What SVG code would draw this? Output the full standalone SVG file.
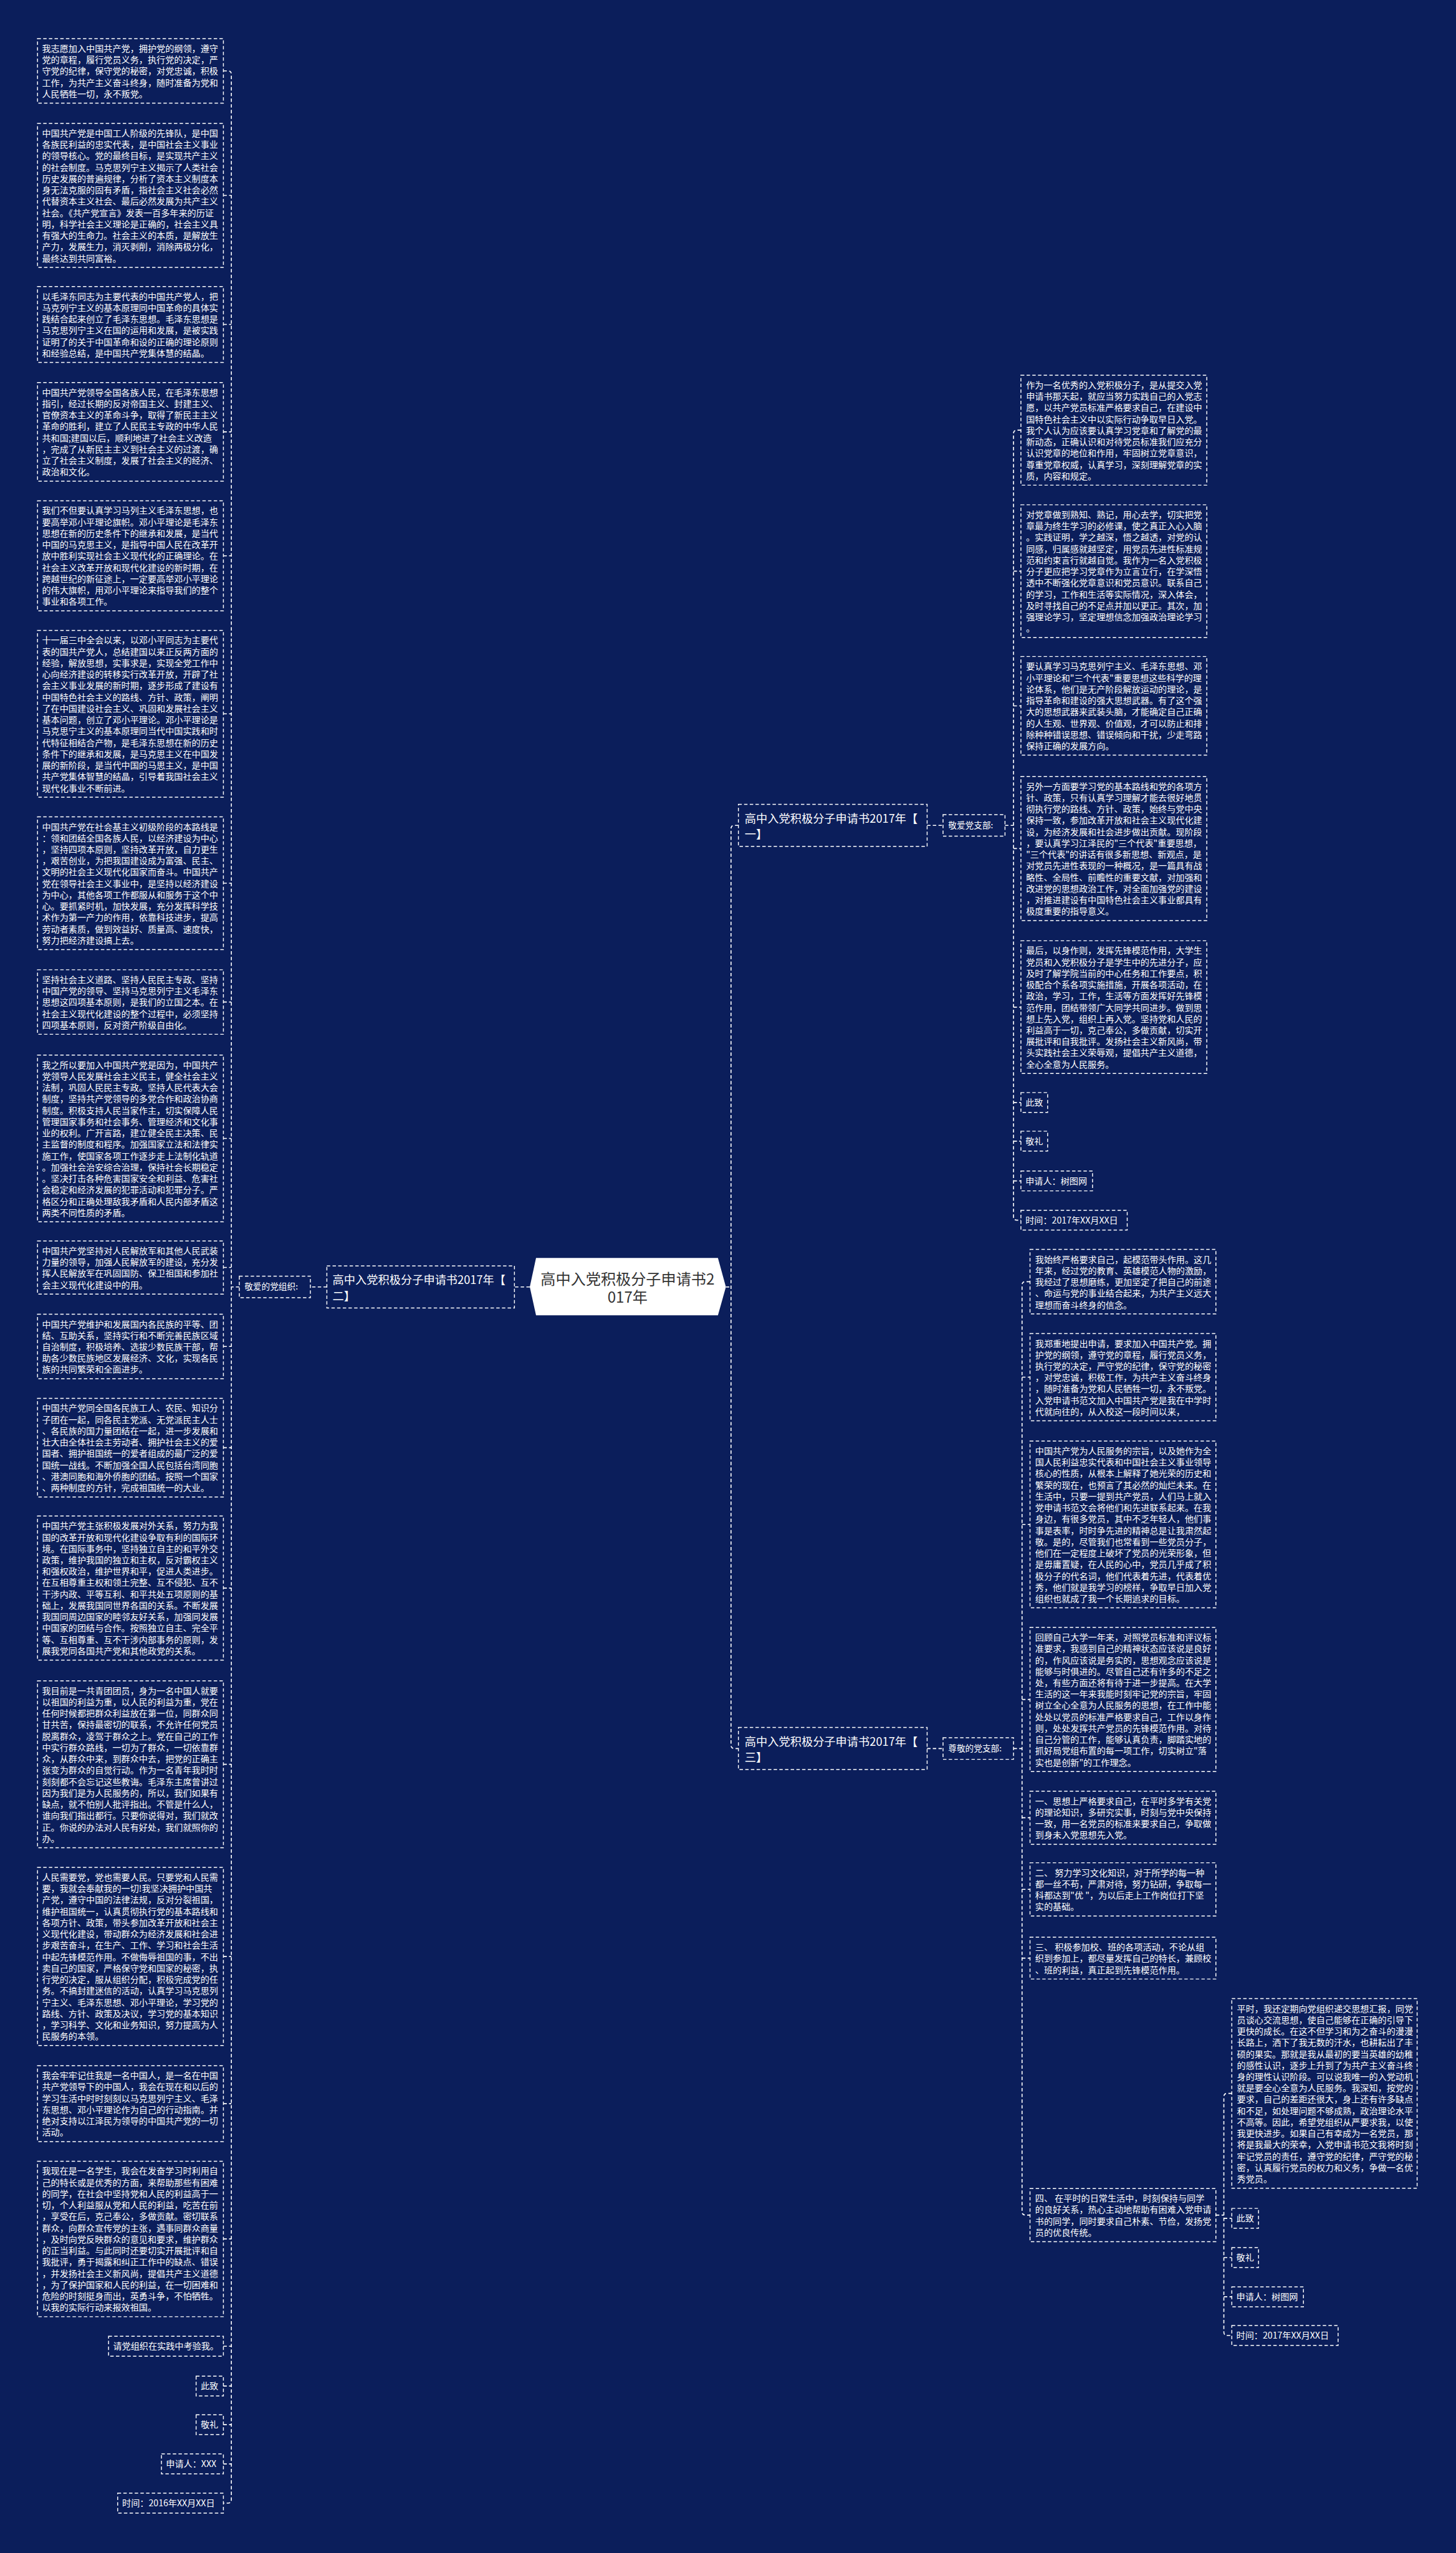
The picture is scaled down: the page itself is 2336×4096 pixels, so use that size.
<svg xmlns="http://www.w3.org/2000/svg" width="2336" height="4096" viewBox="0 0 2336 4096">
<style>
.bg{fill:#0b1e5b}
.box{fill:none;stroke:#ffffff;stroke-width:1.6;stroke-dasharray:6 4}
.conn{fill:none;stroke:#ffffff;stroke-width:1.8;stroke-dasharray:6 4}
.t{font-family:"Noto Sans CJK SC","Noto Sans",sans-serif;font-size:15.5px;fill:#ffffff}
.s{font-family:"Noto Sans CJK SC","Noto Sans",sans-serif;font-size:15px;fill:#ffffff}
.b{font-family:"Noto Sans CJK SC","Noto Sans",sans-serif;font-size:20px;fill:#ffffff}
.c{font-family:"Noto Sans CJK SC","Noto Sans",sans-serif;font-size:26.5px;fill:#333333;text-anchor:middle}
</style>
<rect class="bg" x="0" y="0" width="2336" height="4096"/>
<g transform="scale(0.912)">
<g id="connectors">
<path class="conn" d="M932,2264 H905"/>
<path class="conn" d="M575,2264 H546"/>
<path class="conn" d="M421,2264 H407"/>
<path class="conn" d="M393,124.75 H401 Q407,124.75 407,130.75 V4397.5 Q407,4403.5 401,4403.5 H393"/>
<path class="conn" d="M393,343.75 H407 M393,570.75 H407 M393,759.75 H407 M393,977.75 H407 M393,1255.75 H407 M393,1553.75 H407 M393,1762.75 H407 M393,2002.75 H407 M393,2229.75 H407 M393,2368.75 H407 M393,2546.75 H407 M393,2793.75 H407 M393,3103.75 H407 M393,3441.75 H407 M393,3700.75 H407 M393,3938.75 H407 M393,4127.5 H407 M393,4197.5 H407 M393,4265.5 H407 M393,4334.5 H407"/>
<path class="conn" d="M1277,2264 H1286"/>
<path class="conn" d="M1299,1452 H1292 Q1286,1452 1286,1458 V3070 Q1286,3076 1292,3076 H1299"/>
<path class="conn" d="M1631,1452 H1659"/>
<path class="conn" d="M1631,3076 H1659"/>
<path class="conn" d="M1768,1452 H1783"/>
<path class="conn" d="M1796,756.75 H1789 Q1783,756.75 1783,762.75 V2140.5 Q1783,2146.5 1789,2146.5 H1796"/>
<path class="conn" d="M1783,1004.75 H1796 M1783,1241.75 H1796 M1783,1492.75 H1796 M1783,1771.75 H1796 M1783,1939.5 H1796 M1783,2007.5 H1796 M1783,2077.5 H1796"/>
<path class="conn" d="M1783,3076 H1798"/>
<path class="conn" d="M1812,2254.75 H1804 Q1798,2254.75 1798,2260.75 V3890.75 Q1798,3896.75 1804,3896.75 H1812"/>
<path class="conn" d="M1798,2422.75 H1812 M1798,2681.75 H1812 M1798,2989.75 H1812 M1798,3197.75 H1812 M1798,3323.75 H1812 M1798,3444.75 H1812"/>
<path class="conn" d="M2139,3896.75 H2153"/>
<path class="conn" d="M2167,3682.75 H2159 Q2153,3682.75 2153,3688.75 V4102.5 Q2153,4108.5 2159,4108.5 H2167"/>
<path class="conn" d="M2153,3902.5 H2167 M2153,3971.5 H2167 M2153,4040.5 H2167"/>
</g>

<g id="center">
<polygon points="943,2213 1263,2213 1277,2264 1263,2314 943,2314 932,2264" fill="#ffffff"/>
<text class="c" x="1104" y="2260">高中入党积极分子申请书2</text>
<text class="c" x="1104" y="2292">017年</text>
</g>

<g id="branch2">
<rect class="box" x="575" y="2227" width="330" height="74"/>
<text class="b" x="585" y="2259">高中入党积极分子申请书2017年【</text>
<text class="b" x="585" y="2287">二】</text>
</g>
<g id="greet2">
<rect class="box" x="421" y="2245" width="125" height="38"/>
<text class="s" x="430" y="2269">敬爱的党组织:</text>
</g>

<g id="branch1">
<rect class="box" x="1299" y="1415" width="332" height="74"/>
<text class="b" x="1310" y="1447">高中入党积极分子申请书2017年【</text>
<text class="b" x="1310" y="1475">一】</text>
</g>
<g id="greet1">
<rect class="box" x="1659" y="1433" width="109" height="38"/>
<text class="s" x="1668" y="1457">敬爱党支部:</text>
</g>

<g id="branch3">
<rect class="box" x="1299" y="3039" width="332" height="74"/>
<text class="b" x="1310" y="3071">高中入党积极分子申请书2017年【</text>
<text class="b" x="1310" y="3099">三】</text>
</g>
<g id="greet3">
<rect class="box" x="1659" y="3057" width="124" height="38"/>
<text class="s" x="1668" y="3081">尊敬的党支部:</text>
</g>

<g id="L1"><rect class="box" x="66" y="68" width="327" height="113.5"/>
<text class="t" x="74" y="91"><tspan x="74">我志愿加入中国共产党，拥护党的纲领，遵守</tspan><tspan x="74" dy="20">党的章程，履行党员义务，执行党的决定，严</tspan><tspan x="74" dy="20">守党的纪律，保守党的秘密，对党忠诚，积极</tspan><tspan x="74" dy="20">工作，为共产主义奋斗终身，随时准备为党和</tspan><tspan x="74" dy="20">人民牺牲一切，永不叛党。</tspan></text></g>

<g id="L2"><rect class="box" x="66" y="217" width="327" height="253.5"/>
<text class="t" x="74" y="240"><tspan x="74">中国共产党是中国工人阶级的先锋队，是中国</tspan><tspan x="74" dy="20">各族民利益的忠实代表，是中国社会主义事业</tspan><tspan x="74" dy="20">的领导核心。党的最终目标，是实现共产主义</tspan><tspan x="74" dy="20">的社会制度。马克思列宁主义揭示了人类社会</tspan><tspan x="74" dy="20">历史发展的普遍规律，分析了资本主义制度本</tspan><tspan x="74" dy="20">身无法克服的固有矛盾，指社会主义社会必然</tspan><tspan x="74" dy="20">代替资本主义社会、最后必然发展为共产主义</tspan><tspan x="74" dy="20">社会。《共产党宣言》发表一百多年来的历证</tspan><tspan x="74" dy="20">明，科学社会主义理论是正确的，社会主义具</tspan><tspan x="74" dy="20">有强大的生命力。社会主义的本质，是解放生</tspan><tspan x="74" dy="20">产力，发展生力，消灭剥削，消除两极分化，</tspan><tspan x="74" dy="20">最终达到共同富裕。</tspan></text></g>

<g id="L3"><rect class="box" x="66" y="504" width="327" height="133.5"/>
<text class="t" x="74" y="527"><tspan x="74">以毛泽东同志为主要代表的中国共产党人，把</tspan><tspan x="74" dy="20">马克列宁主义的基本原理同中国革命的具体实</tspan><tspan x="74" dy="20">践结合起来创立了毛泽东思想。毛泽东思想是</tspan><tspan x="74" dy="20">马克思列宁主义在国的运用和发展，是被实践</tspan><tspan x="74" dy="20">证明了的关于中国革命和设的正确的理论原则</tspan><tspan x="74" dy="20">和经验总结，是中国共产党集体慧的结晶。</tspan></text></g>

<g id="L4"><rect class="box" x="66" y="673" width="327" height="173.5"/>
<text class="t" x="74" y="696"><tspan x="74">中国共产党领导全国各族人民，在毛泽东思想</tspan><tspan x="74" dy="20">指引，经过长期的反对帝国主义、封建主义、</tspan><tspan x="74" dy="20">官僚资本主义的革命斗争，取得了新民主主义</tspan><tspan x="74" dy="20">革命的胜利，建立了人民民主专政的中华人民</tspan><tspan x="74" dy="20">共和国;建国以后，顺利地进了社会主义改造</tspan><tspan x="74" dy="20">，完成了从新民主主义到社会主义的过渡，确</tspan><tspan x="74" dy="20">立了社会主义制度，发展了社会主义的经济、</tspan><tspan x="74" dy="20">政治和文化。</tspan></text></g>

<g id="L5"><rect class="box" x="66" y="881" width="327" height="193.5"/>
<text class="t" x="74" y="904"><tspan x="74">我们不但要认真学习马列主义毛泽东思想，也</tspan><tspan x="74" dy="20">要高举邓小平理论旗帜。邓小平理论是毛泽东</tspan><tspan x="74" dy="20">思想在新的历史条件下的继承和发展，是当代</tspan><tspan x="74" dy="20">中国的马克思主义，是指导中国人民在改革开</tspan><tspan x="74" dy="20">放中胜利实现社会主义现代化的正确理论。在</tspan><tspan x="74" dy="20">社会主义改革开放和现代化建设的新时期，在</tspan><tspan x="74" dy="20">跨越世纪的新征途上，一定要高举邓小平理论</tspan><tspan x="74" dy="20">的伟大旗帜，用邓小平理论来指导我们的整个</tspan><tspan x="74" dy="20">事业和各项工作。</tspan></text></g>

<g id="L6"><rect class="box" x="66" y="1109" width="327" height="293.5"/>
<text class="t" x="74" y="1132"><tspan x="74">十一届三中全会以来，以邓小平同志为主要代</tspan><tspan x="74" dy="20">表的国共产党人，总结建国以来正反两方面的</tspan><tspan x="74" dy="20">经验，解放思想，实事求是，实现全党工作中</tspan><tspan x="74" dy="20">心向经济建设的转移实行改革开放，开辟了社</tspan><tspan x="74" dy="20">会主义事业发展的新时期，逐步形成了建设有</tspan><tspan x="74" dy="20">中国特色社会主义的路线、方针、政策，阐明</tspan><tspan x="74" dy="20">了在中国建设社会主义、巩固和发展社会主义</tspan><tspan x="74" dy="20">基本问题，创立了邓小平理论。邓小平理论是</tspan><tspan x="74" dy="20">马克思宁主义的基本原理同当代中国实践和时</tspan><tspan x="74" dy="20">代特征相结合产物，是毛泽东思想在新的历史</tspan><tspan x="74" dy="20">条件下的继承和发展，是马克思主义在中国发</tspan><tspan x="74" dy="20">展的新阶段，是当代中国的马思主义，是中国</tspan><tspan x="74" dy="20">共产党集体智慧的结晶，引导着我国社会主义</tspan><tspan x="74" dy="20">现代化事业不断前进。</tspan></text></g>

<g id="L7"><rect class="box" x="66" y="1437" width="327" height="233.5"/>
<text class="t" x="74" y="1460"><tspan x="74">中国共产党在社会基主义初级阶段的本路线是</tspan><tspan x="74" dy="20">：领和团结全国各族人民，以经济建设为中心</tspan><tspan x="74" dy="20">，坚持四项本原则，坚持改革开放，自力更生</tspan><tspan x="74" dy="20">，艰苦创业，为把我国建设成为富强、民主、</tspan><tspan x="74" dy="20">文明的社会主义现代化国家而奋斗。中国共产</tspan><tspan x="74" dy="20">党在领导社会主义事业中，是坚持以经济建设</tspan><tspan x="74" dy="20">为中心，其他各项工作都服从和服务于这个中</tspan><tspan x="74" dy="20">心。要抓紧时机，加快发展，充分发挥科学技</tspan><tspan x="74" dy="20">术作为第一产力的作用，依靠科技进步，提高</tspan><tspan x="74" dy="20">劳动者素质，做到效益好、质量高、速度快，</tspan><tspan x="74" dy="20">努力把经济建设搞上去。</tspan></text></g>

<g id="L8"><rect class="box" x="66" y="1706" width="327" height="113.5"/>
<text class="t" x="74" y="1729"><tspan x="74">坚持社会主义道路、坚持人民民主专政、坚持</tspan><tspan x="74" dy="20">中国产党的领导、坚持马克思列宁主义毛泽东</tspan><tspan x="74" dy="20">思想这四项基本原则，是我们的立国之本。在</tspan><tspan x="74" dy="20">社会主义现代化建设的整个过程中，必须坚持</tspan><tspan x="74" dy="20">四项基本原则，反对资产阶级自由化。</tspan></text></g>

<g id="L9"><rect class="box" x="66" y="1856" width="327" height="293.5"/>
<text class="t" x="74" y="1879"><tspan x="74">我之所以要加入中国共产党是因为，中国共产</tspan><tspan x="74" dy="20">党领导人民发展社会主义民主，健全社会主义</tspan><tspan x="74" dy="20">法制，巩固人民民主专政。坚持人民代表大会</tspan><tspan x="74" dy="20">制度，坚持共产党领导的多党合作和政治协商</tspan><tspan x="74" dy="20">制度。积极支持人民当家作主，切实保障人民</tspan><tspan x="74" dy="20">管理国家事务和社会事务、管理经济和文化事</tspan><tspan x="74" dy="20">业的权利。广开言路，建立健全民主决策、民</tspan><tspan x="74" dy="20">主监督的制度和程序。加强国家立法和法律实</tspan><tspan x="74" dy="20">施工作，使国家各项工作逐步走上法制化轨道</tspan><tspan x="74" dy="20">。加强社会治安综合治理，保持社会长期稳定</tspan><tspan x="74" dy="20">。坚决打击各种危害国家安全和利益、危害社</tspan><tspan x="74" dy="20">会稳定和经济发展的犯罪活动和犯罪分子。严</tspan><tspan x="74" dy="20">格区分和正确处理敌我矛盾和人民内部矛盾这</tspan><tspan x="74" dy="20">两类不同性质的矛盾。</tspan></text></g>

<g id="L10"><rect class="box" x="66" y="2183" width="327" height="93.5"/>
<text class="t" x="74" y="2206"><tspan x="74">中国共产党坚持对人民解放军和其他人民武装</tspan><tspan x="74" dy="20">力量的领导，加强人民解放军的建设，充分发</tspan><tspan x="74" dy="20">挥人民解放军在巩固国防、保卫祖国和参加社</tspan><tspan x="74" dy="20">会主义现代化建设中的用。</tspan></text></g>

<g id="L11"><rect class="box" x="66" y="2312" width="327" height="113.5"/>
<text class="t" x="74" y="2335"><tspan x="74">中国共产党维护和发展国内各民族的平等、团</tspan><tspan x="74" dy="20">结、互助关系，坚持实行和不断完善民族区域</tspan><tspan x="74" dy="20">自治制度，积极培养、选拔少数民族干部，帮</tspan><tspan x="74" dy="20">助各少数民族地区发展经济、文化，实现各民</tspan><tspan x="74" dy="20">族的共同繁荣和全面进步。</tspan></text></g>

<g id="L12"><rect class="box" x="66" y="2460" width="327" height="173.5"/>
<text class="t" x="74" y="2483"><tspan x="74">中国共产党同全国各民族工人、农民、知识分</tspan><tspan x="74" dy="20">子团在一起，同各民主党派、无党派民主人士</tspan><tspan x="74" dy="20">、各民族的国力量团结在一起，进一步发展和</tspan><tspan x="74" dy="20">壮大由全体社会主劳动者、拥护社会主义的爱</tspan><tspan x="74" dy="20">国者、拥护祖国统一的爱者组成的最广泛的爱</tspan><tspan x="74" dy="20">国统一战线。不断加强全国人民包括台湾同胞</tspan><tspan x="74" dy="20">、港澳同胞和海外侨胞的团结。按照一个国家</tspan><tspan x="74" dy="20">、两种制度的方针，完成祖国统一的大业。</tspan></text></g>

<g id="L13"><rect class="box" x="66" y="2667" width="327" height="253.5"/>
<text class="t" x="74" y="2690"><tspan x="74">中国共产党主张积极发展对外关系，努力为我</tspan><tspan x="74" dy="20">国的改革开放和现代化建设争取有利的国际环</tspan><tspan x="74" dy="20">境。在国际事务中，坚持独立自主的和平外交</tspan><tspan x="74" dy="20">政策，维护我国的独立和主权，反对霸权主义</tspan><tspan x="74" dy="20">和强权政治，维护世界和平，促进人类进步。</tspan><tspan x="74" dy="20">在互相尊重主权和领土完整、互不侵犯、互不</tspan><tspan x="74" dy="20">干涉内政、平等互利、和平共处五项原则的基</tspan><tspan x="74" dy="20">础上，发展我国同世界各国的关系。不断发展</tspan><tspan x="74" dy="20">我国同周边国家的睦邻友好关系，加强同发展</tspan><tspan x="74" dy="20">中国家的团结与合作。按照独立自主、完全平</tspan><tspan x="74" dy="20">等、互相尊重、互不干涉内部事务的原则，发</tspan><tspan x="74" dy="20">展我党同各国共产党和其他政党的关系。</tspan></text></g>

<g id="L14"><rect class="box" x="66" y="2957" width="327" height="293.5"/>
<text class="t" x="74" y="2980"><tspan x="74">我目前是一共青团团员，身为一名中国人就要</tspan><tspan x="74" dy="20">以祖国的利益为重，以人民的利益为重，党在</tspan><tspan x="74" dy="20">任何时候都把群众利益放在第一位，同群众同</tspan><tspan x="74" dy="20">甘共苦，保持最密切的联系，不允许任何党员</tspan><tspan x="74" dy="20">脱离群众，凌驾于群众之上。党在自己的工作</tspan><tspan x="74" dy="20">中实行群众路线，一切为了群众，一切依靠群</tspan><tspan x="74" dy="20">众，从群众中来，到群众中去，把党的正确主</tspan><tspan x="74" dy="20">张变为群众的自觉行动。作为一名青年我时时</tspan><tspan x="74" dy="20">刻刻都不会忘记这些教诲。毛泽东主席曾讲过</tspan><tspan x="74" dy="20">因为我们是为人民服务的，所以，我们如果有</tspan><tspan x="74" dy="20">缺点，就不怕别人批评指出。不管是什么人，</tspan><tspan x="74" dy="20">谁向我们指出都行。只要你说得对，我们就改</tspan><tspan x="74" dy="20">正。你说的办法对人民有好处，我们就照你的</tspan><tspan x="74" dy="20">办。</tspan></text></g>

<g id="L15"><rect class="box" x="66" y="3285" width="327" height="313.5"/>
<text class="t" x="74" y="3308"><tspan x="74">人民需要党，党也需要人民。只要党和人民需</tspan><tspan x="74" dy="20">要，我就会奉献我的一切!我坚决拥护中国共</tspan><tspan x="74" dy="20">产党，遵守中国的法律法规，反对分裂祖国，</tspan><tspan x="74" dy="20">维护祖国统一，认真贯彻执行党的基本路线和</tspan><tspan x="74" dy="20">各项方针、政策，带头参加改革开放和社会主</tspan><tspan x="74" dy="20">义现代化建设，带动群众为经济发展和社会进</tspan><tspan x="74" dy="20">步艰苦奋斗，在生产、工作、学习和社会生活</tspan><tspan x="74" dy="20">中起先锋模范作用。不做侮辱祖国的事，不出</tspan><tspan x="74" dy="20">卖自己的国家，严格保守党和国家的秘密，执</tspan><tspan x="74" dy="20">行党的决定，服从组织分配，积极完成党的任</tspan><tspan x="74" dy="20">务。不搞封建迷信的活动，认真学习马克思列</tspan><tspan x="74" dy="20">宁主义、毛泽东思想、邓小平理论，学习党的</tspan><tspan x="74" dy="20">路线、方针、政策及决议，学习党的基本知识</tspan><tspan x="74" dy="20">，学习科学、文化和业务知识，努力提高为人</tspan><tspan x="74" dy="20">民服务的本领。</tspan></text></g>

<g id="L16"><rect class="box" x="66" y="3634" width="327" height="133.5"/>
<text class="t" x="74" y="3657"><tspan x="74">我会牢牢记住我是一名中国人，是一名在中国</tspan><tspan x="74" dy="20">共产党领导下的中国人，我会在现在和以后的</tspan><tspan x="74" dy="20">学习生活中时时刻刻以马克思列宁主义、毛泽</tspan><tspan x="74" dy="20">东思想、邓小平理论作为自己的行动指南。并</tspan><tspan x="74" dy="20">绝对支持以江泽民为领导的中国共产党的一切</tspan><tspan x="74" dy="20">活动。</tspan></text></g>

<g id="L17"><rect class="box" x="66" y="3802" width="327" height="273.5"/>
<text class="t" x="74" y="3825"><tspan x="74">我现在是一名学生，我会在发奋学习时利用自</tspan><tspan x="74" dy="20">己的特长或是优秀的方面，来帮助那些有困难</tspan><tspan x="74" dy="20">的同学，在社会中坚持党和人民的利益高于一</tspan><tspan x="74" dy="20">切，个人利益服从党和人民的利益，吃苦在前</tspan><tspan x="74" dy="20">，享受在后，克己奉公，多做贡献。密切联系</tspan><tspan x="74" dy="20">群众，向群众宣传党的主张，遇事同群众商量</tspan><tspan x="74" dy="20">，及时向党反映群众的意见和要求，维护群众</tspan><tspan x="74" dy="20">的正当利益。与此同时还要切实开展批评和自</tspan><tspan x="74" dy="20">我批评，勇于揭露和纠正工作中的缺点、错误</tspan><tspan x="74" dy="20">，并发扬社会主义新风尚，提倡共产主义道德</tspan><tspan x="74" dy="20">，为了保护国家和人民的利益，在一切困难和</tspan><tspan x="74" dy="20">危险的时刻挺身而出，英勇斗争，不怕牺牲。</tspan><tspan x="74" dy="20">以我的实际行动来报效祖国。</tspan></text></g>

<g id="L18"><rect class="box" x="191" y="4110" width="202" height="35"/><text class="t" x="199" y="4133">请党组织在实践中考验我。</text></g>
<g id="L19"><rect class="box" x="345" y="4180" width="48" height="35"/><text class="t" x="353" y="4203">此致</text></g>
<g id="L20"><rect class="box" x="345" y="4248" width="48" height="35"/><text class="t" x="353" y="4271">敬礼</text></g>
<g id="L21"><rect class="box" x="284" y="4317" width="109" height="35"/><text class="t" x="292" y="4340">申请人：XXX</text></g>
<g id="L22"><rect class="box" x="207" y="4386" width="186" height="35"/><text class="t" x="215" y="4409">时间：2016年XX月XX日</text></g>

<g id="R1"><rect class="box" x="1796" y="660" width="327" height="193.5"/>
<text class="t" x="1805" y="683"><tspan x="1805">作为一名优秀的入党积极分子，是从提交入党</tspan><tspan x="1805" dy="20">申请书那天起，就应当努力实践自己的入党志</tspan><tspan x="1805" dy="20">愿，以共产党员标准严格要求自己，在建设中</tspan><tspan x="1805" dy="20">国特色社会主义中以实际行动争取早日入党。</tspan><tspan x="1805" dy="20">我个人认为应该要认真学习党章和了解党的最</tspan><tspan x="1805" dy="20">新动态，正确认识和对待党员标准我们应充分</tspan><tspan x="1805" dy="20">认识党章的地位和作用，牢固树立党章意识，</tspan><tspan x="1805" dy="20">尊重党章权威，认真学习，深刻理解党章的实</tspan><tspan x="1805" dy="20">质，内容和规定。</tspan></text></g>

<g id="R2"><rect class="box" x="1796" y="888" width="327" height="233.5"/>
<text class="t" x="1805" y="911"><tspan x="1805">对党章做到熟知、熟记，用心去学，切实把党</tspan><tspan x="1805" dy="20">章最为终生学习的必修课，使之真正入心入脑</tspan><tspan x="1805" dy="20">。实践证明，学之越深，悟之越透，对党的认</tspan><tspan x="1805" dy="20">同感，归属感就越坚定，用党员先进性标准规</tspan><tspan x="1805" dy="20">范和约束言行就越自觉。我作为一名入党积极</tspan><tspan x="1805" dy="20">分子更应把学习党章作为立言立行，在学深悟</tspan><tspan x="1805" dy="20">透中不断强化党章意识和党员意识。联系自己</tspan><tspan x="1805" dy="20">的学习，工作和生活等实际情况，深入体会，</tspan><tspan x="1805" dy="20">及时寻找自己的不足点并加以更正。其次，加</tspan><tspan x="1805" dy="20">强理论学习，坚定理想信念加强政治理论学习</tspan><tspan x="1805" dy="20">。</tspan></text></g>

<g id="R3"><rect class="box" x="1796" y="1155" width="327" height="173.5"/>
<text class="t" x="1805" y="1178"><tspan x="1805">要认真学习马克思列宁主义、毛泽东思想、邓</tspan><tspan x="1805" dy="20">小平理论和"三个代表"重要思想这些科学的理</tspan><tspan x="1805" dy="20">论体系，他们是无产阶段解放运动的理论，是</tspan><tspan x="1805" dy="20">指导革命和建设的强大思想武器。有了这个强</tspan><tspan x="1805" dy="20">大的思想武器来武装头脑，才能确定自己正确</tspan><tspan x="1805" dy="20">的人生观、世界观、价值观，才可以防止和排</tspan><tspan x="1805" dy="20">除种种错误思想、错误倾向和干扰，少走弯路</tspan><tspan x="1805" dy="20">保持正确的发展方向。</tspan></text></g>

<g id="R4"><rect class="box" x="1796" y="1366" width="327" height="253.5"/>
<text class="t" x="1805" y="1389"><tspan x="1805">另外一方面要学习党的基本路线和党的各项方</tspan><tspan x="1805" dy="20">针、政策，只有认真学习理解才能去很好地贯</tspan><tspan x="1805" dy="20">彻执行党的路线、方针、政策，始终与党中央</tspan><tspan x="1805" dy="20">保持一致，参加改革开放和社会主义现代化建</tspan><tspan x="1805" dy="20">设，为经济发展和社会进步做出贡献。现阶段</tspan><tspan x="1805" dy="20">，要认真学习江泽民的"三个代表"重要思想，</tspan><tspan x="1805" dy="20">"三个代表"的讲话有很多新思想、新观点，是</tspan><tspan x="1805" dy="20">对党员先进性表现的一种概况，是一篇具有战</tspan><tspan x="1805" dy="20">略性、全局性、前瞻性的重要文献，对加强和</tspan><tspan x="1805" dy="20">改进党的思想政治工作，对全面加强党的建设</tspan><tspan x="1805" dy="20">，对推进建设有中国特色社会主义事业都具有</tspan><tspan x="1805" dy="20">极度重要的指导意义。</tspan></text></g>

<g id="R5"><rect class="box" x="1796" y="1655" width="327" height="233.5"/>
<text class="t" x="1805" y="1678"><tspan x="1805">最后，以身作则，发挥先锋模范作用，大学生</tspan><tspan x="1805" dy="20">党员和入党积极分子是学生中的先进分子，应</tspan><tspan x="1805" dy="20">及时了解学院当前的中心任务和工作要点，积</tspan><tspan x="1805" dy="20">极配合个系各项实施措施，开展各项活动，在</tspan><tspan x="1805" dy="20">政治，学习，工作，生活等方面发挥好先锋模</tspan><tspan x="1805" dy="20">范作用，团结带领广大同学共同进步。做到思</tspan><tspan x="1805" dy="20">想上先入党，组织上再入党。坚持党和人民的</tspan><tspan x="1805" dy="20">利益高于一切，克己奉公，多做贡献，切实开</tspan><tspan x="1805" dy="20">展批评和自我批评。发扬社会主义新风尚，带</tspan><tspan x="1805" dy="20">头实践社会主义荣辱观，提倡共产主义道德，</tspan><tspan x="1805" dy="20">全心全意为人民服务。</tspan></text></g>

<g id="R6"><rect class="box" x="1796" y="1922" width="47" height="35"/><text class="t" x="1804" y="1945">此致</text></g>
<g id="R7"><rect class="box" x="1796" y="1990" width="47" height="35"/><text class="t" x="1804" y="2013">敬礼</text></g>
<g id="R8"><rect class="box" x="1796" y="2060" width="126" height="35"/><text class="t" x="1804" y="2083">申请人：树图网</text></g>
<g id="R9"><rect class="box" x="1796" y="2129" width="187" height="35"/><text class="t" x="1804" y="2152">时间：2017年XX月XX日</text></g>

<g id="R10"><rect class="box" x="1812" y="2198" width="327" height="113.5"/>
<text class="t" x="1821" y="2221"><tspan x="1821">我始终严格要求自己，起模范带头作用。这几</tspan><tspan x="1821" dy="20">年来，经过党的教育、英雄模范人物的激励，</tspan><tspan x="1821" dy="20">我经过了思想磨练，更加坚定了把自己的前途</tspan><tspan x="1821" dy="20">、命运与党的事业结合起来，为共产主义远大</tspan><tspan x="1821" dy="20">理想而奋斗终身的信念。</tspan></text></g>

<g id="R11"><rect class="box" x="1812" y="2346" width="327" height="153.5"/>
<text class="t" x="1821" y="2369"><tspan x="1821">我郑重地提出申请，要求加入中国共产党。拥</tspan><tspan x="1821" dy="20">护党的纲领，遵守党的章程，履行党员义务，</tspan><tspan x="1821" dy="20">执行党的决定，严守党的纪律，保守党的秘密</tspan><tspan x="1821" dy="20">，对党忠诚，积极工作，为共产主义奋斗终身</tspan><tspan x="1821" dy="20">，随时准备为党和人民牺牲一切，永不叛党。</tspan><tspan x="1821" dy="20">入党申请书范文加入中国共产党是我在中学时</tspan><tspan x="1821" dy="20">代就向往的，从入校这一段时间以来，</tspan></text></g>

<g id="R12"><rect class="box" x="1812" y="2535" width="327" height="293.5"/>
<text class="t" x="1821" y="2558"><tspan x="1821">中国共产党为人民服务的宗旨，以及她作为全</tspan><tspan x="1821" dy="20">国人民利益忠实代表和中国社会主义事业领导</tspan><tspan x="1821" dy="20">核心的性质，从根本上解释了她光荣的历史和</tspan><tspan x="1821" dy="20">繁荣的现在，也预言了其必然的灿烂未来。在</tspan><tspan x="1821" dy="20">生活中，只要一提到共产党员，人们马上就入</tspan><tspan x="1821" dy="20">党申请书范文会将他们和先进联系起来。在我</tspan><tspan x="1821" dy="20">身边，有很多党员，其中不乏年轻人，他们事</tspan><tspan x="1821" dy="20">事是表率，时时争先进的精神总是让我肃然起</tspan><tspan x="1821" dy="20">敬。是的，尽管我们也常看到一些党员分子，</tspan><tspan x="1821" dy="20">他们在一定程度上破坏了党员的光荣形象，但</tspan><tspan x="1821" dy="20">是毋庸置疑，在人民的心中，党员几乎成了积</tspan><tspan x="1821" dy="20">极分子的代名词，他们代表着先进，代表着优</tspan><tspan x="1821" dy="20">秀，他们就是我学习的榜样，争取早日加入党</tspan><tspan x="1821" dy="20">组织也就成了我一个长期追求的目标。</tspan></text></g>

<g id="R13"><rect class="box" x="1812" y="2863" width="327" height="253.5"/>
<text class="t" x="1821" y="2886"><tspan x="1821">回顾自己大学一年来，对照党员标准和评议标</tspan><tspan x="1821" dy="20">准要求，我感到自己的精神状态应该说是良好</tspan><tspan x="1821" dy="20">的，作风应该说是务实的，思想观念应该说是</tspan><tspan x="1821" dy="20">能够与时俱进的。尽管自己还有许多的不足之</tspan><tspan x="1821" dy="20">处，有些方面还将有待于进一步提高。在大学</tspan><tspan x="1821" dy="20">生活的这一年来我能时刻牢记党的宗旨，牢固</tspan><tspan x="1821" dy="20">树立全心全意为人民服务的思想，在工作中能</tspan><tspan x="1821" dy="20">处处以党员的标准严格要求自己，工作以身作</tspan><tspan x="1821" dy="20">则，处处发挥共产党员的先锋模范作用。对待</tspan><tspan x="1821" dy="20">自己分管的工作，能够认真负责，脚踏实地的</tspan><tspan x="1821" dy="20">抓好局党组布置的每一项工作，切实树立"落</tspan><tspan x="1821" dy="20">实也是创新"的工作理念。</tspan></text></g>

<g id="R14"><rect class="box" x="1812" y="3151" width="327" height="93.5"/>
<text class="t" x="1821" y="3174"><tspan x="1821">一、思想上严格要求自己，在平时多学有关党</tspan><tspan x="1821" dy="20">的理论知识，多研究实事，时刻与党中央保持</tspan><tspan x="1821" dy="20">一致，用一名党员的标准来要求自己，争取做</tspan><tspan x="1821" dy="20">到身未入党思想先入党。</tspan></text></g>

<g id="R15"><rect class="box" x="1812" y="3277" width="327" height="93.5"/>
<text class="t" x="1821" y="3300"><tspan x="1821">二、 努力学习文化知识，对于所学的每一种</tspan><tspan x="1821" dy="20">都一丝不苟，严肃对待，努力钻研，争取每一</tspan><tspan x="1821" dy="20">科都达到"优 "，为以后走上工作岗位打下坚</tspan><tspan x="1821" dy="20">实的基础。</tspan></text></g>

<g id="R16"><rect class="box" x="1812" y="3408" width="327" height="73.5"/>
<text class="t" x="1821" y="3431"><tspan x="1821">三、 积极参加校、班的各项活动，不论从组</tspan><tspan x="1821" dy="20">织到参加上，都尽量发挥自己的特长，兼顾校</tspan><tspan x="1821" dy="20">、班的利益，真正起到先锋模范作用。</tspan></text></g>

<g id="R17"><rect class="box" x="1812" y="3850" width="327" height="93.5"/>
<text class="t" x="1821" y="3873"><tspan x="1821">四、 在平时的日常生活中，时刻保持与同学</tspan><tspan x="1821" dy="20">的良好关系，热心主动地帮助有困难入党申请</tspan><tspan x="1821" dy="20">书的同学，同时要求自己朴素、节俭，发扬党</tspan><tspan x="1821" dy="20">员的优良传统。</tspan></text></g>

<g id="R18"><rect class="box" x="2167" y="3516" width="326" height="333.5"/>
<text class="t" x="2176" y="3539"><tspan x="2176">平时，我还定期向党组织递交思想汇报，同党</tspan><tspan x="2176" dy="20">员谈心交流思想，使自己能够在正确的引导下</tspan><tspan x="2176" dy="20">更快的成长。在这不但学习和为之奋斗的漫漫</tspan><tspan x="2176" dy="20">长路上，洒下了我无数的汗水，也耕耘出了丰</tspan><tspan x="2176" dy="20">硕的果实。那就是我从最初的要当英雄的幼稚</tspan><tspan x="2176" dy="20">的感性认识，逐步上升到了为共产主义奋斗终</tspan><tspan x="2176" dy="20">身的理性认识阶段。可以说我唯一的入党动机</tspan><tspan x="2176" dy="20">就是要全心全意为人民服务。我深知，按党的</tspan><tspan x="2176" dy="20">要求，自己的差距还很大，身上还有许多缺点</tspan><tspan x="2176" dy="20">和不足，如处理问题不够成熟，政治理论水平</tspan><tspan x="2176" dy="20">不高等。因此，希望党组织从严要求我，以使</tspan><tspan x="2176" dy="20">我更快进步。如果自己有幸成为一名党员，那</tspan><tspan x="2176" dy="20">将是我最大的荣幸，入党申请书范文我将时刻</tspan><tspan x="2176" dy="20">牢记党员的责任，遵守党的纪律，严守党的秘</tspan><tspan x="2176" dy="20">密，认真履行党员的权力和义务，争做一名优</tspan><tspan x="2176" dy="20">秀党员。</tspan></text></g>

<g id="R19"><rect class="box" x="2167" y="3885" width="47" height="35"/><text class="t" x="2175" y="3908">此致</text></g>
<g id="R20"><rect class="box" x="2167" y="3954" width="47" height="35"/><text class="t" x="2175" y="3977">敬礼</text></g>
<g id="R21"><rect class="box" x="2167" y="4023" width="126" height="35"/><text class="t" x="2175" y="4046">申请人：树图网</text></g>
<g id="R22"><rect class="box" x="2167" y="4091" width="187" height="35"/><text class="t" x="2175" y="4114">时间：2017年XX月XX日</text></g>
</g>
</svg>
